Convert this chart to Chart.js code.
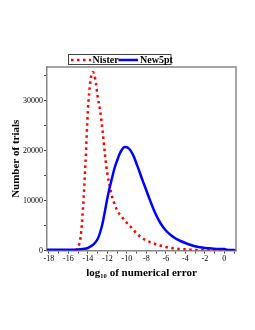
<!DOCTYPE html>
<html>
<head>
<meta charset="utf-8">
<script src="https://cdn.jsdelivr.net/npm/chart.js@4.4.1/dist/chart.umd.min.js"></script>
<style>
  html, body { margin: 0; padding: 0; background: #fff; }
  #wrap { width: 255px; height: 330px; }
</style>
</head>
<body>
<div id="wrap"><canvas id="errores"></canvas></div>
<script>
// log10 of error (x) and number of trials (y)
const nisterX = [-15.25, -15, -14.75, -14.5, -14.25, -14, -13.75, -13.5, -13.25, -13, -12.75, -12.5, -12.25, -12, -11.75, -11.5, -11.25, -11, -10.5, -10, -9.5, -9, -8.5, -8, -7.5, -7, -6.5, -6, -5.5, -5, -4.5, -4, -3.5, -3, -2.5, -2, -1.5, -1, -0.5, 0, 0.5];
const nisterY = [0, 700, 2700, 8600, 17600, 28100, 33800, 35700, 34300, 30800, 28000, 24000, 19200, 15300, 12800, 10600, 9200, 8000, 6700, 5500, 4500, 3400, 2600, 2000, 1600, 1250, 950, 700, 500, 400, 300, 230, 170, 120, 90, 60, 50, 30, 20, 10, 0];

const new5ptX = [-18.2, -17, -16, -15, -14.5, -14, -13.75, -13.5, -13.25, -13, -12.75, -12.5, -12.25, -12, -11.75, -11.5, -11.25, -11, -10.75, -10.5, -10.25, -10, -9.75, -9.5, -9.25, -9, -8.75, -8.5, -8.25, -8, -7.75, -7.5, -7.25, -7, -6.5, -6, -5.5, -5, -4.5, -4, -3.5, -3, -2.5, -2, -1.5, -1, -0.5, 0, 0.25, 0.5, 1, 1.2];
const new5ptY = [150, 150, 150, 200, 300, 500, 800, 1100, 1600, 2300, 3600, 5400, 7900, 10500, 12700, 14700, 16600, 18000, 19300, 20200, 20700, 20650, 20300, 19600, 18600, 17300, 16000, 14600, 13300, 12000, 10700, 9400, 8200, 7100, 5300, 4000, 3100, 2400, 1900, 1500, 1150, 850, 650, 520, 440, 350, 280, 300, 150, 120, 80, 50];

const xTicks = [-18, -16, -14, -12, -10, -8, -6, -4, -2, 0];
const yTicks = [0, 10000, 20000, 30000];
const yMarcas = [0, 5000, 10000, 15000, 20000, 25000, 30000, 35000];

const serif = "'Liberation Serif', 'DejaVu Serif', serif";

function puntos(xs, ys) {
    return xs.map((x, i) => ({ x: x, y: ys[i] }));
}

function etiqueta(lista, v) {
    return lista.some((t) => Math.abs(t - v) < 1e-6) ? String(Math.round(v)) : '';
}

// caja del grafico y leyenda a mano
const marco = {
    id: 'marco',
    afterDraw(chart) {
        const ctx = chart.ctx;
        const a = chart.chartArea;
        ctx.save();
        ctx.strokeStyle = '#888';
        ctx.lineWidth = 1.5;
        ctx.beginPath();
        ctx.moveTo(a.left, a.top);
        ctx.lineTo(a.right, a.top);
        ctx.lineTo(a.right, a.bottom);
        ctx.stroke();

        // leyenda
        ctx.strokeStyle = '#444';
        ctx.lineWidth = 1;
        ctx.strokeRect(68.5, 54.5, 102.5, 10);
        ctx.font = 'bold 10px ' + serif;
        ctx.fillStyle = '#000';
        ctx.textBaseline = 'middle';
        const ds = chart.data.datasets;

        ctx.strokeStyle = ds[0].borderColor;
        ctx.lineWidth = ds[0].borderWidth;
        ctx.setLineDash(ds[0].borderDash);
        ctx.beginPath();
        ctx.moveTo(71, 60);
        ctx.lineTo(91, 60);
        ctx.stroke();
        ctx.setLineDash([]);
        ctx.fillText(ds[0].label, 92.5, 60);

        ctx.strokeStyle = ds[1].borderColor;
        ctx.lineWidth = ds[1].borderWidth;
        ctx.beginPath();
        ctx.moveTo(118.5, 60);
        ctx.lineTo(138, 60);
        ctx.stroke();
        ctx.fillText(ds[1].label, 140, 60);
        ctx.restore();
    }
};

var grafica = document.getElementById('errores');
var myChart = new Chart(grafica, {
    type: 'line',
    data: {
        datasets: [{
            label: 'Nister',
            data: puntos(nisterX, nisterY),
            borderColor: '#ff0000',
            borderWidth: 2.5,
            borderDash: [2.5, 3.5],
            pointRadius: 0,
            cubicInterpolationMode: 'monotone',
            order: 1
        }, {
            label: 'New5pt',
            data: puntos(new5ptX, new5ptY),
            borderColor: '#0000ff',
            borderWidth: 2.5,
            pointRadius: 0,
            cubicInterpolationMode: 'monotone',
            order: 0
        }]
    },
    options: {
        responsive: true,
        maintainAspectRatio: false,
        animation: false,
        events: [],
        layout: { padding: { top: 67, right: 19, left: 10, bottom: 50 } },
        plugins: {
            legend: { display: false },
            tooltip: { enabled: false }
        },
        scales: {
            x: {
                type: 'linear',
                min: -18.2,
                max: 1.2,
                afterFit: (s) => { s.height = 29.5; },
                border: { display: true, color: '#888', width: 1.5 },
                grid: { drawOnChartArea: false, drawTicks: true, tickLength: 3, color: '#444' },
                ticks: {
                    stepSize: 1,
                    includeBounds: false,
                    autoSkip: false,
                    maxRotation: 0,
                    padding: 1,
                    color: '#000',
                    font: { family: serif, size: 8 },
                    callback: (v) => etiqueta(xTicks, v)
                },
                title: {
                    display: true,
                    text: 'log₁₀ of numerical error',
                    color: '#000',
                    font: { family: serif, size: 11, weight: 'bold' },
                    padding: { top: 2, bottom: 0 }
                }
            },
            y: {
                type: 'linear',
                min: 0,
                max: 36700,
                // stepSize con max 36700 se redondea mal, asi que marcas a mano
                afterBuildTicks: (s) => { s.ticks = yMarcas.map((v) => ({ value: v })); },
                afterFit: (s) => { s.width = 37; },
                border: { display: true, color: '#888', width: 1.5 },
                grid: { drawOnChartArea: false, drawTicks: true, tickLength: 3, color: '#444' },
                ticks: {
                    autoSkip: false,
                    padding: 1,
                    color: '#000',
                    font: { family: serif, size: 8 },
                    callback: (v) => etiqueta(yTicks, v)
                },
                title: {
                    display: true,
                    text: 'Number of trials',
                    color: '#000',
                    font: { family: serif, size: 11, weight: 'bold' },
                    padding: { top: 0, bottom: 2 }
                }
            }
        }
    },
    plugins: [marco]
});
</script>
</body>
</html>
